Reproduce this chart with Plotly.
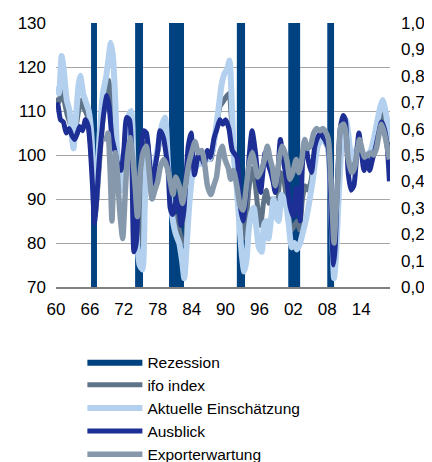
import plotly.graph_objects as go

# Recession periods (decimal years)
rec_start = [1966.2, 1974.0, 1980.0, 1992.0, 2001.1, 2008.0]
rec_end = [1967.25, 1975.4, 1982.65, 1993.45, 2003.2, 2009.2]

ifo_x = [1960.0,1960.5,1961.0,1961.5,1962.0,1962.5,1963.0,1963.5,1964.0,1964.5,1965.0,1965.5,1966.0,1966.5,1966.9,1967.3,1967.8,1968.3,1968.8,1969.3,1969.8,1970.3,1970.8,1971.4,1972.0,1972.6,1973.1,1973.6,1974.1,1974.6,1975.1,1975.6,1976.1,1976.6,1977.1,1977.6,1978.2,1978.7,1979.3,1979.8,1980.3,1980.8,1981.3,1981.8,1982.4,1982.8,1983.3,1983.8,1984.4,1985.0,1985.6,1986.2,1986.8,1987.4,1988.0,1988.5,1989.0,1989.5,1990.0,1990.6,1991.1,1991.6,1992.1,1992.6,1993.1,1993.6,1994.1,1994.7,1995.2,1995.7,1996.2,1996.7,1997.2,1997.7,1998.2,1998.7,1999.2,1999.7,2000.2,2000.7,2001.2,2001.7,2002.2,2002.7,2003.1,2003.6,2004.1,2004.6,2005.1,2005.6,2006.1,2006.6,2007.1,2007.6,2008.1,2008.5,2008.9,2009.2,2009.6,2010.0,2010.5,2011.0,2011.5,2012.0,2012.6,2013.1,2013.6,2014.2,2014.7,2015.2,2015.8,2016.4,2016.9,2017.4,2017.9,2018.4,2018.9,2019.1]
ifo_y = [113,112,115,112,109,107,104,106,110,112.5,110.5,109,104,95,86,91,100,108,113,117,113,106,100,96,100,108,108,97,82,80,88,102,103,98,93,98,102,105.5,106,97,89,86,86,83,80,80,92,97,96,98,99,98,100,99,103,107,111,112,113,114,107,100,96,88,81,84,92,97,94,88,84,89,92,89,90,90,90,96,95,91,86,83,84,85,83,90,93,92,94,99,103,104,104,103,101.5,94,83,76,84,94,104,108,106,97,96,101,103,100,98,99.5,99,101.5,105,108.5,109.5,106,100,98]

akt_x = [1960.0,1960.5,1961.0,1961.4,1961.9,1962.4,1962.8,1963.1,1963.5,1964.0,1964.3,1964.8,1965.3,1965.8,1966.3,1966.8,1967.2,1967.7,1968.3,1968.9,1969.4,1969.7,1970.1,1970.5,1970.8,1971.3,1971.8,1972.3,1972.9,1973.3,1973.8,1974.3,1974.8,1975.3,1975.7,1976.1,1976.6,1977.1,1977.6,1978.2,1978.8,1979.3,1979.8,1980.2,1980.7,1981.2,1981.8,1982.3,1982.7,1983.1,1983.6,1984.2,1984.8,1985.4,1985.9,1986.5,1987.1,1987.7,1988.3,1988.8,1989.3,1989.8,1990.3,1990.7,1991.1,1991.5,1991.9,1992.3,1992.9,1993.3,1993.7,1994.1,1994.6,1995.0,1995.5,1995.9,1996.4,1996.8,1997.2,1997.6,1998.1,1998.5,1999.0,1999.4,1999.9,2000.3,2000.8,2001.2,2001.7,2002.2,2002.6,2003.2,2003.6,2004.0,2004.5,2004.9,2005.4,2005.8,2006.3,2006.7,2007.2,2007.6,2008.1,2008.5,2008.8,2009.2,2009.5,2009.9,2010.4,2010.9,2011.3,2011.7,2012.2,2012.8,2013.3,2013.9,2014.5,2015.1,2015.7,2016.3,2016.9,2017.4,2017.8,2018.3,2018.8,2019.1]
akt_y = [115.5,114,122.5,119,112.5,110,104,101.5,108,116,118,114,112,110,104,88,92,104,114,118,123,125.5,122,112,101,96,92,102,109,110,92,81,75,74,88,101,98,95,99,103,107,108.5,98,90,85,82,80,76,72,79,89,96,97.5,98,98,100,99,101,106,111,116,118.5,119.5,121.5,112,99,94,87,77,73.5,76,83,87,88,83,79,78,84,85,81,86,90,86,85,91,90,88,84,79,80,78.5,80,82,84,87,90,94,98,102,103,104,103.5,102,95,84,72,76,87,100,107,108,105,100,99,102,101,99,100,101,104,108,111,112.5,110,106,103]

aus_x = [1960.0,1960.3,1960.8,1961.3,1961.8,1962.3,1962.8,1963.3,1963.8,1964.2,1964.7,1965.2,1965.7,1966.1,1966.5,1966.8,1967.2,1967.6,1968.0,1968.5,1969.0,1969.4,1969.9,1970.4,1970.9,1971.5,1972.0,1972.5,1973.0,1973.4,1973.8,1974.2,1974.6,1975.1,1975.5,1976.0,1976.5,1977.0,1977.5,1978.0,1978.4,1979.0,1979.5,1979.9,1980.2,1980.6,1981.1,1981.5,1982.1,1982.6,1983.0,1983.4,1983.9,1984.5,1985.0,1985.5,1986.2,1986.8,1987.3,1988.0,1988.5,1989.0,1989.5,1990.0,1990.6,1991.2,1992.0,1992.6,1993.1,1993.8,1994.2,1994.7,1995.3,1995.8,1996.2,1996.6,1997.0,1997.5,1997.9,1998.4,1998.8,1999.3,1999.7,2000.2,2000.8,2001.4,2002.0,2002.5,2002.9,2003.2,2003.7,2004.1,2004.6,2005.2,2005.8,2006.3,2006.8,2007.3,2007.8,2008.2,2008.5,2008.8,2009.1,2009.4,2009.8,2010.3,2010.8,2011.2,2011.7,2012.2,2012.7,2013.2,2013.6,2014.1,2014.5,2015.0,2015.5,2016.0,2016.6,2017.1,2017.6,2018.1,2018.6,2019.0]
aus_y = [110.5,111.5,108,107.5,105,106,104.5,103.5,105,106.5,105.5,108,106.5,101,92,84.5,90,98,104,110,113.5,111,104,101,98,96.5,101,108.5,108,100,78,80,92,100,105.5,105,99,92,97,101,105.5,104,100,96,88,86.5,89,90.5,84,87,95,102,105,95.5,99,100.5,98,101,99.5,104,106,108,107,108,106,101,99.5,88.5,85,93,100,105.5,100.5,94,91.5,96,100.5,98,96.5,94,91.5,97,103.5,99,94.5,88.5,86,92.5,89,85,100,103,99,96,102,104,105,104,103,101.5,94,82,75,79,94,106,109,108,96,92,93,100,105,100,96.5,99,96.5,99,102,105,107.5,106,102,94]

exp_x = [1968.8,1969.2,1969.6,1969.9,1970.2,1970.5,1970.8,1971.3,1971.8,1972.2,1972.6,1973.1,1973.6,1974.0,1974.4,1974.9,1975.4,1976.0,1976.5,1977.0,1977.5,1978.0,1978.5,1979.1,1979.7,1980.2,1980.7,1981.2,1981.8,1982.4,1982.9,1983.5,1984.1,1984.6,1985.2,1985.8,1986.3,1986.8,1987.4,1987.9,1988.4,1988.9,1989.4,1989.9,1990.5,1990.9,1991.4,1992.0,1992.6,1993.1,1993.7,1994.2,1994.7,1995.2,1995.7,1996.3,1996.9,1997.4,1997.9,1998.3,1998.8,1999.2,1999.6,2000.0,2000.4,2000.9,2001.4,2001.9,2002.5,2003.0,2003.4,2004.0,2004.5,2005.0,2005.6,2006.1,2006.7,2007.2,2007.6,2008.2,2008.6,2008.9,2009.2,2009.5,2009.9,2010.4,2010.9,2011.3,2011.7,2012.3,2012.8,2013.3,2013.7,2014.2,2014.6,2015.1,2015.7,2016.2,2016.7,2017.2,2017.6,2018.1,2018.5,2019.0]
exp_y = [103,105,96,85,95,100.5,97,87,81,90,99,104,99,93,86,96,100.5,102,96,90,92,94,97.5,99,97,94,91,95,93,89,93,98,101,103,100.5,101,98,93,91,93,95,100,102,99,97,94.5,96.5,93,88.5,87.5,93,98,100.5,98,95,96.5,99,102,99,97,93,96,100,102,101,98.5,94.5,96,99,96,98,103.5,101.5,102,105,106,105.5,106,105.5,103.5,95,87,80,86,95,106.5,107,105,99,96,97,101,103.5,101,99.5,100,100.5,100,101.5,105,107,105,102.5,99]

x_tickvals = [1960, 1966, 1972, 1978, 1984, 1990, 1996, 2002, 2008, 2014]
x_ticktext = ["60", "66", "72", "78", "84", "90", "96", "02", "08", "14"]

# recession polygons built from the period lists
rx, ry = [], []
for s, e in zip(rec_start, rec_end):
    rx += [s, s, e, e, s, None]
    ry += [0, 1, 1, 0, 0, None]

FONT = "Liberation Sans, Arial, sans-serif"
fig = go.Figure()
fig.add_trace(go.Scatter(x=rx, y=ry, name="Rezession", mode="lines", fill="toself",
                         fillcolor="#00417f", line=dict(width=0, color="#00417f"),
                         yaxis="y", hoverinfo="skip"))
series = [
    ("ifo index", ifo_x, ifo_y, "#5e7388", 5),
    ("Aktuelle Einschätzung", akt_x, akt_y, "#b3d0ef", 6),
    ("Ausblick", aus_x, aus_y, "#1d2f95", 5),
    ("Exporterwartung", exp_x, exp_y, "#8698ab", 5.5),
]
for name, xs, ys, col, w in series:
    fig.add_trace(go.Scatter(x=xs, y=ys, name=name, mode="lines",
                             line=dict(color=col, width=w, shape="spline", smoothing=0.6),
                             yaxis="y2"))

# the page body has an 8px default margin; the figure is sized to fit inside the window
fig.update_layout(
    width=424, height=454,
    margin=dict(l=48, r=42, t=15, b=175, autoexpand=False),
    paper_bgcolor="white", plot_bgcolor="white",
    separators=",.",
    font=dict(family=FONT, size=17, color="#000000"),
    showlegend=True,
    xaxis=dict(range=[1960, 2019.1], tickmode="array", tickvals=x_tickvals, ticktext=x_ticktext,
               showgrid=False, zeroline=False, showline=True, linecolor="#808080", linewidth=2,
               ticks="", tickfont=dict(size=17), ticklabelstandoff=6, automargin=False),
    yaxis=dict(side="right", range=[0, 1], dtick=0.1, tickformat=".1f", showgrid=False,
               zeroline=False, showline=False, ticks="", ticklabelstandoff=10,
               tickfont=dict(size=17), automargin=False),
    yaxis2=dict(side="left", overlaying="y", range=[70, 130], dtick=10, showgrid=True,
                gridcolor="#a6a6a6", gridwidth=1, zeroline=False, showline=False, ticks="",
                ticklabelstandoff=9, tickfont=dict(size=17), automargin=False),
    legend=dict(x=0.079, y=-0.22, xanchor="left", yanchor="top", orientation="v",
                font=dict(family=FONT, size=15.5), itemwidth=55, bgcolor="rgba(0,0,0,0)",
                traceorder="normal"),
)
fig.write_html("out.html")
